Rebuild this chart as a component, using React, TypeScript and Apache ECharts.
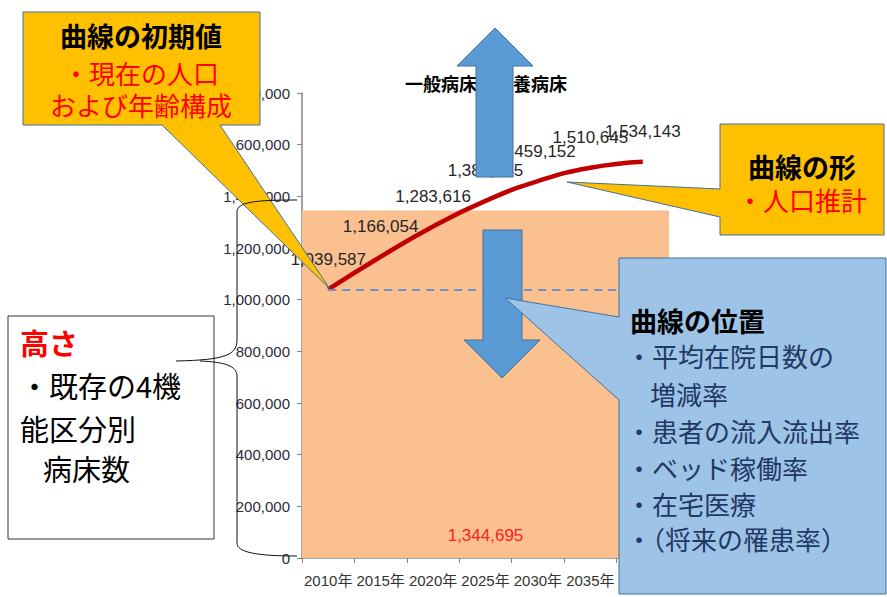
import React, { useEffect, useRef } from "react";
import * as echarts from "echarts";

const years = ["2010年", "2015年", "2020年", "2025年", "2030年", "2035年", "2040年"];
const demand = [1039587, 1166054, 1283616, 1382345, 1459152, 1510645, 1534143];
const existingBeds = [1344695];
const yMax = 1800000;
const yStep = 200000;

const titleText = "一般病床＋療養病床";
const callout1 = ["曲線の初期値", "・現在の人口", "および年齢構成"];
const callout2 = ["曲線の形", "・人口推計"];
const callout3Title = "曲線の位置";
const callout3Items = ["・平均在院日数の", "増減率", "・患者の流入流出率", "・ベッド稼働率", "・在宅医療", "・（将来の罹患率）"];
const heightBox = ["高さ", "・既存の4機", "能区分別", "病床数"];

const braceD =
  "M297,200 C255,200 237,202 237,212 L237,340 C237,355 225,360 176,361 M200,361 C225,362 237,366 237,376 L237,543 C237,552 255,556 297,556";
try {
  echarts.graphic.registerShape("brace", echarts.graphic.extendPath(braceD, {}) as any);
} catch (e) {}

const CJK = '"Noto Sans CJK JP", "Noto Sans", sans-serif';
const NUM = '"Liberation Sans", "Noto Sans CJK JP", sans-serif';

function txt(text: string, x: number, y: number, size: number, color: string, bold: boolean, align: string = "left") {
  return {
    type: "text",
    z: 110,
    x,
    y,
    style: {
      text,
      fill: color,
      fontSize: size,
      fontWeight: bold ? "bold" : "normal",
      fontFamily: CJK,
      align,
      verticalAlign: "middle",
      textAlign: align,
      textVerticalAlign: "middle",
    },
  };
}

export default function App() {
  const ref = useRef<HTMLDivElement>(null);
  useEffect(() => {
    if (!ref.current) return;
    const chart = echarts.init(ref.current, undefined, { renderer: "svg" });
    const blueStroke = "#41719C";
    const option: any = {
      animation: false,
      backgroundColor: "#ffffff",
      title: {
        text: titleText,
        left: 405,
        top: 74,
        padding: 0,
        textStyle: { fontSize: 18, fontWeight: "bold", color: "#000", fontFamily: CJK },
      },
      grid: { left: 302, right: 218, top: 93, bottom: 39, containLabel: false, outerBoundsMode: "none" },
      xAxis: [
        {
          type: "category",
          data: years,
          boundaryGap: true,
          axisLine: { show: true, lineStyle: { color: "#868686", width: 1.5 } },
          axisTick: { show: true, length: 5, lineStyle: { color: "#868686" } },
          axisLabel: { color: "#333", fontSize: 15, fontFamily: NUM, margin: 15, interval: 0 },
          splitLine: { show: false },
        },
        {
          type: "category",
          data: ["beds"],
          show: false,
          boundaryGap: true,
        },
      ],
      yAxis: {
        type: "value",
        min: 0,
        max: yMax,
        interval: yStep,
        axisLine: { show: true, lineStyle: { color: "#868686", width: 1.5 } },
        axisTick: { show: true, length: 5, lineStyle: { color: "#868686" } },
        axisLabel: {
          color: "#2b2b3b",
          fontSize: 15,
          fontFamily: NUM,
          margin: 12,
          formatter: (v: number) => v.toLocaleString("en-US"),
        },
        splitLine: { show: false },
      },
      series: [
        {
          type: "bar",
          xAxisIndex: 1,
          data: existingBeds,
          barWidth: "100%",
          itemStyle: { color: "#FAC090" },
          label: {
            show: true,
            position: "insideBottom",
            distance: 14,
            color: "#FF2020",
            fontSize: 17,
            fontFamily: NUM,
            formatter: (p: any) => Number(p.value).toLocaleString("en-US"),
          },
          z: 1,
        },
        {
          type: "line",
          data: demand.map((v, i) => (i === demand.length - 1 ? { value: v, label: { offset: [-13, 0] } } : v)),
          smooth: true,
          symbol: "circle",
          symbolSize: 1,
          showSymbol: true,
          lineStyle: { color: "#C00000", width: 4.5 },
          itemStyle: { color: "rgba(0,0,0,0)" },
          labelLayout: { hideOverlap: false },
          label: {
            show: true,
            position: "top",
            distance: 21,
            color: "#262626",
            fontSize: 17,
            fontFamily: NUM,
            formatter: (p: any) => Number(p.value).toLocaleString("en-US"),
          },
          markLine: {
            silent: true,
            symbol: ["none", "none"],
            label: { show: false },
            lineStyle: { color: "#7090C8", width: 2, type: [8, 6] },
            data: [[{ coord: [0, demand[0]] }, { coord: [years.length - 1, demand[0]] }]],
          },
          z: 3,
        },
      ],
      graphic: [
        {
          type: "polygon",
          z: 100,
          shape: { points: [[495, 28], [533, 66], [513, 66], [513, 177], [476, 177], [476, 66], [457, 66]] },
          style: { fill: "#5B9BD5", stroke: blueStroke, lineWidth: 1 },
        },
        {
          type: "polygon",
          z: 100,
          shape: { points: [[483, 230], [522, 230], [522, 340], [540, 340], [502, 378], [464, 340], [483, 340]] },
          style: { fill: "#5B9BD5", stroke: blueStroke, lineWidth: 1 },
        },
        {
          type: "polygon",
          z: 101,
          shape: { points: [[23, 12], [260, 12], [260, 125], [220, 125], [330, 289], [162, 125], [23, 125]] },
          style: { fill: "#FFC000", stroke: blueStroke, lineWidth: 1 },
        },
        {
          type: "polygon",
          z: 101,
          shape: { points: [[720, 124], [884, 124], [884, 235], [720, 235], [720, 217], [567, 182], [720, 189]] },
          style: { fill: "#FFC000", stroke: blueStroke, lineWidth: 1 },
        },
        {
          type: "polygon",
          z: 101,
          shape: { points: [[619, 258], [886, 258], [886, 594], [619, 594], [619, 400], [505, 298], [619, 317]] },
          style: { fill: "#9DC3E6", stroke: blueStroke, lineWidth: 1 },
        },
        {
          type: "rect",
          z: 101,
          shape: { x: 8, y: 316, width: 206, height: 223 },
          style: { fill: "#ffffff", stroke: "#333", lineWidth: 1 },
        },
        {
          type: "brace",
          z: 102,
          x: 0,
          y: 0,
          shape: {},
          style: { fill: "none", stroke: "#111", lineWidth: 1 },
        },
        txt(callout1[0], 141, 35, 27, "#000", true, "center"),
        txt(callout1[1], 141, 72, 26, "#FF0000", false, "center"),
        txt(callout1[2], 141, 104, 26, "#FF0000", false, "center"),
        txt(callout2[0], 802, 166, 27, "#000", true, "center"),
        txt(callout2[1], 802, 199, 26, "#FF0000", false, "center"),
        txt(callout3Title, 630, 320, 27, "#000", true),
        txt(callout3Items[0], 626, 355, 26, "#1F3864", false),
        txt(callout3Items[1], 650, 393, 26, "#1F3864", false),
        txt(callout3Items[2], 626, 430, 26, "#1F3864", false),
        txt(callout3Items[3], 626, 467, 26, "#1F3864", false),
        txt(callout3Items[4], 626, 503, 26, "#1F3864", false),
        txt(callout3Items[5], 626, 538, 26, "#1F3864", false),
        txt(heightBox[0], 20, 342, 29, "#FF0000", true),
        txt(heightBox[1], 20, 385, 29, "#000", false),
        txt(heightBox[2], 20, 428, 29, "#000", false),
        txt(heightBox[3], 43, 468, 29, "#000", false),
      ],
    };
    chart.setOption(option);
    return () => chart.dispose();
  }, []);
  return (
    <div
      ref={ref}
      style={{ position: "absolute", left: 0, top: 0, width: 887, height: 597 }}
    />
  );
}
